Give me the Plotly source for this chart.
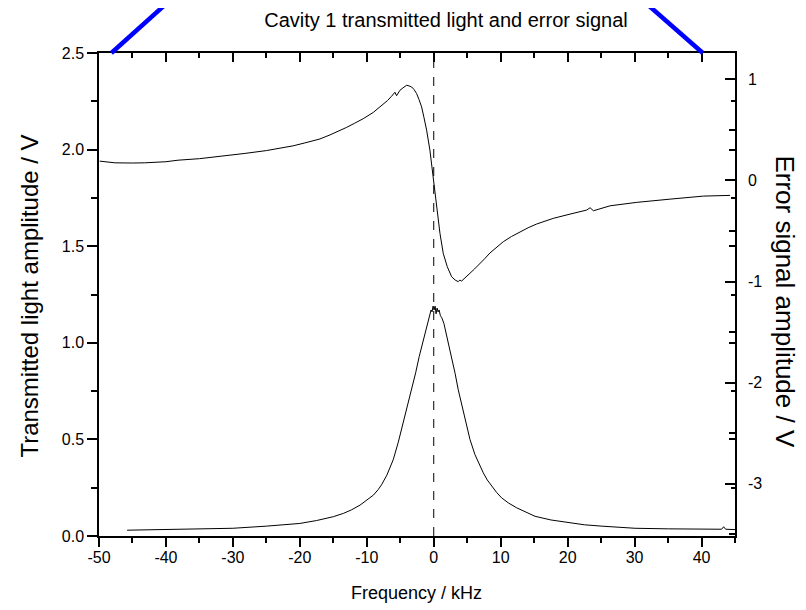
import plotly.graph_objects as go

# ---- data ----
freq_T = [-45.8, -42, -38, -35, -30, -25, -20, -17.5, -15, -13.5, -12.3, -11, -10, -9, -8.3,
          -7.8, -7, -6.05, -5.3, -4.56, -3.9, -3.3, -2.7, -2.17, -1.6, -0.97, -0.6, -0.4,
          -0.25, -0.1, 0.05, 0.2, 0.35, 0.5, 0.65, 0.8, 1.0, 1.2, 1.52, 2.1, 2.67, 3.2,
          3.66, 4.3, 4.92, 5.41, 6.16, 6.8, 7.4, 8.0, 8.65, 9.4, 10.15, 11.2, 12.39, 13.7,
          15.13, 17.5, 20.1, 22.5, 25.1, 27.5, 30.07, 35.05, 40.04, 43.0, 43.3, 43.6, 45.0]
transmitted = [0.030, 0.032, 0.034, 0.036, 0.040, 0.051, 0.065, 0.080, 0.100, 0.117, 0.135,
               0.160, 0.188, 0.212, 0.240, 0.265, 0.315, 0.395, 0.485, 0.585, 0.670, 0.757,
               0.845, 0.929, 1.01, 1.10, 1.14, 1.17, 1.16, 1.19, 1.17, 1.19, 1.15, 1.18, 1.16,
               1.17, 1.14, 1.13, 1.10, 1.01, 0.929, 0.84, 0.757, 0.665, 0.585, 0.50, 0.421,
               0.37, 0.327, 0.29, 0.257, 0.225, 0.197, 0.170, 0.146, 0.123, 0.102, 0.083,
               0.068, 0.058, 0.051, 0.045, 0.040, 0.037, 0.035, 0.035, 0.048, 0.035, 0.033]

freq_E = [-49.9, -47.6, -45, -43.2, -40, -38.2, -35, -33.2, -30, -28.2, -25, -23.25, -21,
          -19.25, -17, -15.5, -14.77, -13.0, -11.8, -10.54, -9.04, -8.3, -7.55, -6.9, -6.3,
          -5.8, -5.55, -5.05, -4.6, -4.05, -3.7, -3.3, -2.95, -2.56, -2.2, -1.81, -1.45,
          -1.06, -0.57, -0.07, 0.43, 0.93, 1.42, 2.02, 2.67, 3.2, 3.66, 3.9, 4.16, 4.6,
          5.41, 6.1, 6.91, 7.6, 8.4, 9.4, 10.39, 11.6, 12.88, 14.1, 15.38, 17.86, 20.36,
          22.85, 23.35, 23.85, 26.34, 30.33, 35.31, 40.28, 44.27]
error_signal = [0.191, 0.174, 0.172, 0.174, 0.185, 0.200, 0.215, 0.227, 0.252, 0.267, 0.295,
                0.316, 0.342, 0.371, 0.410, 0.450, 0.470, 0.525, 0.566, 0.610, 0.672, 0.712,
                0.755, 0.790, 0.832, 0.872, 0.838, 0.891, 0.915, 0.941, 0.935, 0.924, 0.900,
                0.859, 0.800, 0.727, 0.620, 0.497, 0.299, 0.003, -0.293, -0.523, -0.721,
                -0.853, -0.952, -0.985, -1.001, -0.985, -0.995, -0.965, -0.918, -0.875,
                -0.825, -0.775, -0.717, -0.658, -0.606, -0.555, -0.507, -0.468, -0.431,
                -0.375, -0.333, -0.293, -0.270, -0.300, -0.251, -0.217, -0.185, -0.155, -0.148]

x_ticks = [-50, -40, -30, -20, -10, 0, 10, 20, 30, 40]
x_ticklabels = ["-50", "-40", "-30", "-20", "-10", "0", "10", "20", "30", "40"]
yl_ticks = [0.0, 0.5, 1.0, 1.5, 2.0, 2.5]
yl_ticklabels = ["0.0", "0.5", "1.0", "1.5", "2.0", "2.5"]
yr_ticks = [-3, -2, -1, 0, 1]
yr_ticklabels = ["-3", "-2", "-1", "0", "1"]

FONT = "Arial, Liberation Sans, sans-serif"
OFF = 8  # page body margin
W, H = 806 - OFF, 610 - OFF
ML, MR, MT, MB = 91.3, 70.5, 44.7, 73.5
pw = W - ML - MR
ph = H - MT - MB


def px2paper(px, py):
    return (px - OFF - ML) / pw, (H - MB - (py - OFF)) / ph


fig = go.Figure()
fig.add_trace(go.Scatter(x=freq_T, y=transmitted, mode="lines",
                         line=dict(color="black", width=1), xaxis="x", yaxis="y",
                         showlegend=False, hoverinfo="skip"))
fig.add_trace(go.Scatter(x=freq_E, y=error_signal, mode="lines",
                         line=dict(color="black", width=1), xaxis="x", yaxis="y2",
                         showlegend=False, hoverinfo="skip"))
# invisible traces to activate mirror axes
fig.add_trace(go.Scatter(x=[None], y=[None], xaxis="x2", yaxis="y", showlegend=False,
                         hoverinfo="skip"))
fig.add_trace(go.Scatter(x=[None], y=[None], xaxis="x", yaxis="y3", showlegend=False,
                         hoverinfo="skip"))

axis_common = dict(showgrid=False, zeroline=False, showline=True, linecolor="black",
                   linewidth=1.5, tickcolor="black", tickwidth=1.5, automargin=False)

fig.update_layout(
    width=W, height=H,
    margin=dict(l=ML, r=MR, t=MT, b=MB, pad=0),
    paper_bgcolor="white", plot_bgcolor="white",
    font=dict(family=FONT, color="black", size=16),
    title=dict(text="Cavity 1 transmitted light and error signal",
               x=(446 - OFF) / W, xanchor="center",
               y=1 - (20 - OFF) / H, yanchor="middle",
               font=dict(size=20, family=FONT, color="black")),
    xaxis=dict(range=[-50, 45], ticks="outside", ticklen=9, tickvals=x_ticks,
               ticktext=x_ticklabels, tickfont=dict(size=16), ticklabelstandoff=-3,
               minor=dict(ticks="outside", dtick=5, tick0=0, ticklen=5, tickwidth=1.5,
                          tickcolor="black"),
               **axis_common),
    xaxis2=dict(range=[-50, 45], overlaying="x", side="top", anchor="y", ticks="inside",
                ticklen=9, tickvals=x_ticks, showticklabels=False,
                minor=dict(ticks="inside", dtick=5, tick0=0, ticklen=5, tickwidth=1.5,
                           tickcolor="black"),
                **axis_common),
    yaxis=dict(range=[0, 2.5], ticks="outside", ticklen=10, tickvals=yl_ticks,
               ticktext=yl_ticklabels, tickfont=dict(size=16),
               minor=dict(ticks="outside", dtick=0.25, tick0=0, ticklen=6, tickwidth=1.5,
                          tickcolor="black"),
               **axis_common),
    yaxis2=dict(range=[-3.516, 1.26], overlaying="y", side="right", anchor="x",
                ticks="inside", ticklen=10, tickvals=yr_ticks, ticktext=yr_ticklabels,
                tickfont=dict(size=16), ticklabelstandoff=8,
                minor=dict(ticks="inside", dtick=0.5, tick0=0, ticklen=6, tickwidth=1.5,
                           tickcolor="black"),
                **axis_common),
    yaxis3=dict(range=[0, 2.5], overlaying="y", side="right", anchor="x",
                ticks="inside", ticklen=6, tickvals=yl_ticks, showticklabels=False,
                minor=dict(ticks="inside", dtick=0.25, tick0=0, ticklen=4, tickwidth=1.5,
                           tickcolor="black"),
                showgrid=False, zeroline=False, showline=False, tickcolor="black",
                tickwidth=1.5),
)

# axis titles placed as annotations
ax, ay = px2paper(417, 594)
fig.add_annotation(text="Frequency / kHz", x=ax, y=ay, xref="paper", yref="paper",
                   xanchor="center", yanchor="middle", showarrow=False,
                   font=dict(size=18, family=FONT, color="black"))
ax, ay = px2paper(30, 296)
fig.add_annotation(text="Transmitted light amplitude / V", x=ax, y=ay, xref="paper",
                   yref="paper", xanchor="center", yanchor="middle", showarrow=False,
                   textangle=-90, font=dict(size=24, family=FONT, color="black"))
ax, ay = px2paper(786, 302)
fig.add_annotation(text="Error signal amplitude / V", x=ax, y=ay, xref="paper",
                   yref="paper", xanchor="center", yanchor="middle", showarrow=False,
                   textangle=90, font=dict(size=26, family=FONT, color="black"))

# dashed vertical line at zero detuning
fig.add_shape(type="line", xref="x", yref="paper", x0=0, x1=0, y0=0, y1=1,
              line=dict(color="black", width=1, dash="dash"))

# blue zoom-indicator lines above the plot
lx0, ly0 = px2paper(111.7, 52.7)
lx1, ly1 = px2paper(170 + 8, -7)
rx0, ry0 = px2paper(703.3, 52.7)
rx1, ry1 = px2paper(643.3 - 8, -7)
for (a, b, c, d) in [(lx0, ly0, lx1, ly1), (rx0, ry0, rx1, ry1)]:
    fig.add_shape(type="line", xref="paper", yref="paper", x0=a, y0=b, x1=c, y1=d,
                  line=dict(color="#0000FF", width=4.5))

fig.write_html("out.html")
